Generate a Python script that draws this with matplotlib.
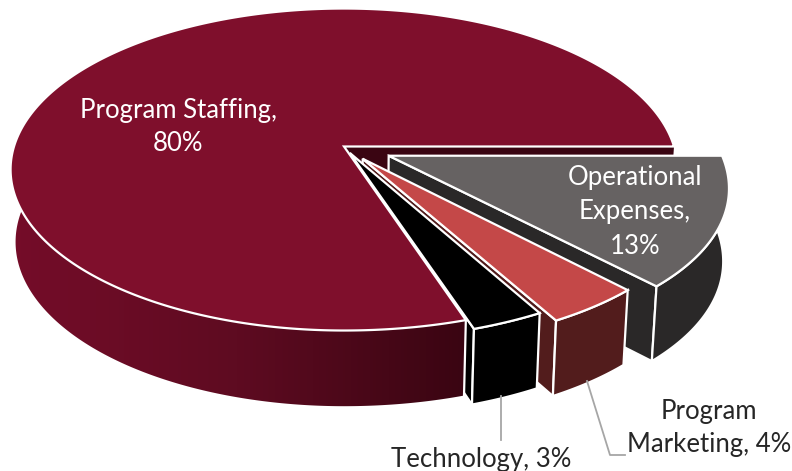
import numpy as np
import matplotlib
matplotlib.use("Agg")
import matplotlib.pyplot as plt
from matplotlib.patches import Polygon
from matplotlib.colors import LinearSegmentedColormap

categories = ["Program Staffing", "Technology", "Program Marketing", "Operational Expenses"]
values = [80, 3, 4, 13]
explode = [0.0, 0.045, 0.095, 0.146]
top_colors = ["#7f0f2c", "#000000", "#c44848", "#666262"]
wall_colors = ["#3a0512", "#000000", "#521c1c", "#2a2828"]
label_texts = ["Program Staffing,\n80%", "Technology, 3%", "Program\nMarketing, 4%", "Operational\nExpenses,\n13%"]

# projection of the tilted disc onto the picture (pixel units)
APEX = (344.0, 146.5)
R, A, K, SHEAR = 330.0, 157.7, 0.143, 0.034
SHRINK, STRETCH, DEPTH = 0.985, 1.02, 72.0

def project(x, y):
    w = 1 + K * y
    bulge = SHEAR * max(x, 0.0) * max(-y, 0.0)
    return R * (x + bulge) / w, A * y / w

def top_pt(x, y):
    X, Y = project(x, y)
    return APEX[0] + X, APEX[1] - Y

def bottom_pt(x, y):
    X, Y = project(x, y)
    return APEX[0] + X * SHRINK, APEX[1] - Y * STRETCH + DEPTH

# slice angles measured clockwise from the right: operational, marketing, technology, staffing
spans = np.array(values) / sum(values) * 360.0
a0 = 0.0
geom = {}
for i in [3, 2, 1, 0]:
    a1 = a0 - spans[i]
    mid = np.radians((a0 + a1) / 2)
    ox, oy = explode[i] * np.cos(mid), explode[i] * np.sin(mid)
    t = np.radians(np.linspace(a0, a1, max(int(abs(a1 - a0)) * 2, 12)))
    geom[i] = (ox, oy, ox + np.cos(t), oy + np.sin(t))
    a0 = a1

fig = plt.figure(figsize=(7.92, 4.71), dpi=100)
ax = fig.add_axes([0, 0, 1, 1])
ax.set_xlim(0, 792)
ax.set_ylim(471, 0)
ax.axis("off")
plt.rcParams["font.family"] = "Lato"

EDGE = dict(edgecolor="white", linewidth=1.6, joinstyle="miter")

def pts(fn, xs, ys):
    return np.array([fn(x, y) for x, y in zip(xs, ys)])

# back cut face of the large slice
ax.add_patch(Polygon([top_pt(0, 0), top_pt(1, 0), bottom_pt(1, 0), bottom_pt(0, 0)],
                     facecolor=wall_colors[0], edgecolor="none", zorder=1))

z = 2
for i in [3, 2, 1]:
    ox, oy, xs, ys = geom[i]
    face = [top_pt(ox, oy), top_pt(xs[-1], ys[-1]), bottom_pt(xs[-1], ys[-1]), bottom_pt(ox, oy)]
    ax.add_patch(Polygon(face, facecolor=wall_colors[i], zorder=z, **EDGE))
    wall = np.vstack([pts(top_pt, xs, ys), pts(bottom_pt, xs, ys)[::-1]])
    ax.add_patch(Polygon(wall, facecolor=wall_colors[i], zorder=z + 0.1, **EDGE))
    top = np.vstack([[top_pt(ox, oy)], pts(top_pt, xs, ys)])
    ax.add_patch(Polygon(top, facecolor=top_colors[i], zorder=z + 0.2, **EDGE))
    z += 1

# large slice wall with horizontal gradient
ox, oy, xs, ys = geom[0]
wall = np.vstack([pts(top_pt, xs, ys), pts(bottom_pt, xs, ys)[::-1]])
clip = Polygon(wall, facecolor="none", edgecolor="none", transform=ax.transData)
ax.add_patch(clip)
cmap = LinearSegmentedColormap.from_list("w", ["#750d29", "#5e0b21", "#3a0512"])
im = ax.imshow(np.linspace(0, 1, 256)[None, :], cmap=cmap, extent=(10, 465, 471, 0),
               aspect="auto", zorder=z, interpolation="bilinear")
im.set_clip_path(clip)
ax.set_xlim(0, 792)
ax.set_ylim(471, 0)
ax.plot([top_pt(xs[0], ys[0])[0], bottom_pt(xs[0], ys[0])[0]],
        [top_pt(xs[0], ys[0])[1], bottom_pt(xs[0], ys[0])[1]], color="white", lw=1.6, zorder=z + 0.1)
top = np.vstack([[top_pt(0, 0)], pts(top_pt, xs, ys)])
ax.add_patch(Polygon(top, facecolor=top_colors[0], zorder=z + 0.2, **EDGE))

# leader lines
ax.plot([501, 501], [396, 440], color="#a6a6a6", lw=1.3, zorder=z + 1)
ax.plot([587, 610, 625], [381, 455, 455], color="#a6a6a6", lw=1.3, zorder=z + 1)

FS = 18.5
ax.text(178, 127, label_texts[0], color="white", fontsize=FS, ha="center", va="center", linespacing=1.4, zorder=z + 2)
ax.text(481, 459, label_texts[1], color="#262626", fontsize=FS, ha="center", va="center", zorder=z + 2)
ax.text(709, 428, label_texts[2], color="#262626", fontsize=FS, ha="center", va="center", linespacing=1.4, zorder=z + 2)
ax.text(635, 212, label_texts[3], color="white", fontsize=FS, ha="center", va="center", linespacing=1.45, zorder=z + 2)

fig.savefig("out.png", dpi=100)
